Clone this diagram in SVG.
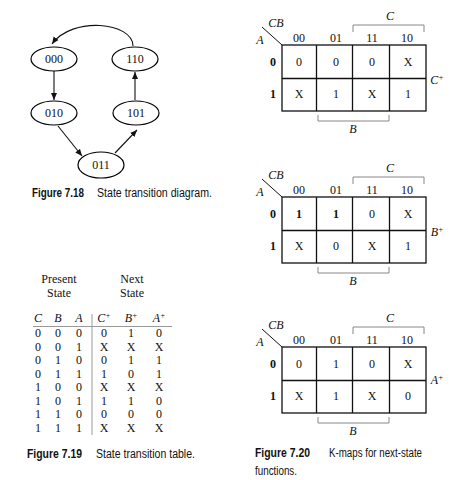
<svg xmlns="http://www.w3.org/2000/svg" width="454" height="480" viewBox="0 0 454 480">
<style>
.st{fill:#fff;stroke:#000;stroke-width:1.2}
.t{font-family:"Liberation Serif","DejaVu Serif",serif;font-size:12px;fill:#111;text-anchor:middle}
.i{font-style:italic}
.cap{font-family:"Liberation Sans","DejaVu Sans",sans-serif;font-size:12px;fill:#111}
.capb{font-family:"Liberation Sans","DejaVu Sans",sans-serif;font-size:12px;font-weight:bold;fill:#111}
.con{fill:none;stroke:#111;stroke-width:1.1}
.grid{fill:none;stroke:#111;stroke-width:1.3}
.br{fill:none;stroke:#888;stroke-width:1}
</style>
<defs>
<marker id="ah" markerWidth="8" markerHeight="8" refX="7" refY="4" orient="auto" markerUnits="userSpaceOnUse">
<path d="M0,1 L7,4 L0,7 Z" fill="#111"/>
</marker>
<g id="kgrid">
<rect class="grid" x="282" y="0" width="144" height="66"/>
<line class="grid" x1="282" y1="33.5" x2="426" y2="33.5"/>
<line class="grid" x1="316.5" y1="0" x2="316.5" y2="66"/>
<line class="grid" x1="352.5" y1="0" x2="352.5" y2="66"/>
<line class="grid" x1="389.5" y1="0" x2="389.5" y2="66"/>
<line x1="262" y1="-18" x2="282" y2="0" stroke="#111" stroke-width="1"/>
<text class="t i" x="276" y="-18">CB</text>
<text class="t i" x="260" y="-1">A</text>
<text class="t" x="299" y="-3">00</text>
<text class="t" x="336" y="-3">01</text>
<text class="t" x="372" y="-3">11</text>
<text class="t" x="407" y="-3">10</text>
<text class="t" x="273" y="21" font-weight="bold">0</text>
<text class="t" x="273" y="53" font-weight="bold">1</text>
<path class="br" d="M353,-13 V-20 H424 V-13"/>
<text class="t i" x="390" y="-25">C</text>
<path class="br" d="M318,70 V76 H389 V70"/>
<text class="t i" x="353" y="88">B</text>
</g>
</defs>

<g id="connectors">
<path class="con" d="M133,46 C133,22 72,16 52,44" marker-end="url(#ah)"/>
<line class="con" x1="54" y1="71" x2="54" y2="100" marker-end="url(#ah)"/>
<line class="con" x1="58" y1="126" x2="82" y2="156" marker-end="url(#ah)"/>
<line class="con" x1="115" y1="153" x2="137" y2="130" marker-end="url(#ah)"/>
<line class="con" x1="135" y1="100" x2="135" y2="72" marker-end="url(#ah)"/>
</g>

<g id="s000"><ellipse class="st" cx="54" cy="59" rx="23" ry="12"/><text class="t" x="54" y="63">000</text></g>
<g id="s110"><ellipse class="st" cx="135" cy="59" rx="23" ry="12"/><text class="t" x="135" y="63">110</text></g>
<g id="s010"><ellipse class="st" cx="54" cy="113" rx="23" ry="12"/><text class="t" x="54" y="117">010</text></g>
<g id="s101"><ellipse class="st" cx="136" cy="113" rx="23" ry="12"/><text class="t" x="136" y="117">101</text></g>
<g id="s011"><ellipse class="st" cx="101" cy="165" rx="23" ry="13"/><text class="t" x="101" y="169">011</text></g>

<g id="cap718">
<text class="capb" x="32" y="197" textLength="52" lengthAdjust="spacingAndGlyphs">Figure 7.18</text>
<text class="cap" x="97" y="197" textLength="115" lengthAdjust="spacingAndGlyphs">State transition diagram.</text>
</g>

<g id="table">
<text class="t" x="59" y="283">Present</text>
<text class="t" x="59" y="297">State</text>
<text class="t" x="132" y="283">Next</text>
<text class="t" x="132" y="297">State</text>
<text class="t i" x="38" y="322">C</text>
<text class="t i" x="58" y="322">B</text>
<text class="t i" x="79" y="322">A</text>
<text class="t i" x="104" y="322">C<tspan font-size="8" dy="-4">+</tspan></text>
<text class="t i" x="131" y="322">B<tspan font-size="8" dy="-4">+</tspan></text>
<text class="t i" x="159" y="322">A<tspan font-size="8" dy="-4">+</tspan></text>
<line x1="33" y1="326.5" x2="172" y2="326.5" stroke="#999" stroke-width="1"/>
<line x1="92" y1="314" x2="92" y2="435" stroke="#999" stroke-width="1"/>
<g class="t">
<text x="38" y="337">0</text><text x="58" y="337">0</text><text x="79" y="337">0</text><text x="104" y="337">0</text><text x="131" y="337">1</text><text x="159" y="337">0</text>
<text x="38" y="350.5">0</text><text x="58" y="350.5">0</text><text x="79" y="350.5">1</text><text x="104" y="350.5">X</text><text x="131" y="350.5">X</text><text x="159" y="350.5">X</text>
<text x="38" y="364">0</text><text x="58" y="364">1</text><text x="79" y="364">0</text><text x="104" y="364">0</text><text x="131" y="364">1</text><text x="159" y="364">1</text>
<text x="38" y="377.5">0</text><text x="58" y="377.5">1</text><text x="79" y="377.5">1</text><text x="104" y="377.5">1</text><text x="131" y="377.5">0</text><text x="159" y="377.5">1</text>
<text x="38" y="391">1</text><text x="58" y="391">0</text><text x="79" y="391">0</text><text x="104" y="391">X</text><text x="131" y="391">X</text><text x="159" y="391">X</text>
<text x="38" y="404.5">1</text><text x="58" y="404.5">0</text><text x="79" y="404.5">1</text><text x="104" y="404.5">1</text><text x="131" y="404.5">1</text><text x="159" y="404.5">0</text>
<text x="38" y="418">1</text><text x="58" y="418">1</text><text x="79" y="418">0</text><text x="104" y="418">0</text><text x="131" y="418">0</text><text x="159" y="418">0</text>
<text x="38" y="431.5">1</text><text x="58" y="431.5">1</text><text x="79" y="431.5">1</text><text x="104" y="431.5">X</text><text x="131" y="431.5">X</text><text x="159" y="431.5">X</text>
</g>
</g>

<g id="cap719">
<text class="capb" x="27" y="458" textLength="55" lengthAdjust="spacingAndGlyphs">Figure 7.19</text>
<text class="cap" x="96" y="458" textLength="99" lengthAdjust="spacingAndGlyphs">State transition table.</text>
</g>

<g id="kmapC" transform="translate(0,45)">
<use href="#kgrid"/>
<g class="t">
<text x="299" y="21">0</text><text x="336" y="21">0</text><text x="372" y="21">0</text><text x="408" y="21">X</text>
<text x="299" y="53">X</text><text x="336" y="53">1</text><text x="372" y="53">X</text><text x="408" y="53">1</text>
</g>
<text class="t i" x="437" y="39">C<tspan font-size="8" dy="-4">+</tspan></text>
</g>

<g id="kmapB" transform="translate(0,197)">
<use href="#kgrid"/>
<g class="t">
<text x="299" y="21" font-weight="bold">1</text><text x="336" y="21" font-weight="bold">1</text><text x="372" y="21">0</text><text x="408" y="21">X</text>
<text x="299" y="53">X</text><text x="336" y="53">0</text><text x="372" y="53">X</text><text x="408" y="53">1</text>
</g>
<text class="t i" x="437" y="39">B<tspan font-size="8" dy="-4">+</tspan></text>
</g>

<g id="kmapA" transform="translate(0,347)">
<use href="#kgrid"/>
<g class="t">
<text x="299" y="21">0</text><text x="336" y="21">1</text><text x="372" y="21">0</text><text x="408" y="21">X</text>
<text x="299" y="53">X</text><text x="336" y="53">1</text><text x="372" y="53">X</text><text x="408" y="53">0</text>
</g>
<text class="t i" x="437" y="37">A<tspan font-size="8" dy="-4">+</tspan></text>
</g>

<g id="cap720">
<text class="capb" x="255" y="457" textLength="55" lengthAdjust="spacingAndGlyphs">Figure 7.20</text>
<text class="cap" x="329" y="457" textLength="93" lengthAdjust="spacingAndGlyphs">K-maps for next-state</text>
<text class="cap" x="255" y="475" textLength="42" lengthAdjust="spacingAndGlyphs">functions.</text>
</g>
</svg>
